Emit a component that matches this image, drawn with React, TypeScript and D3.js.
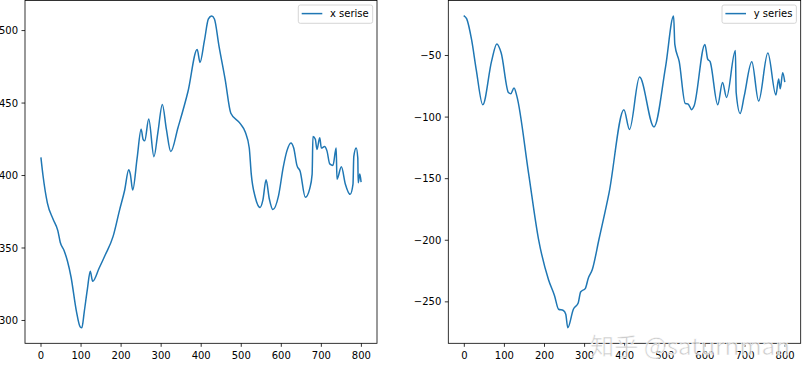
import React from "react";
import * as d3 from "d3";

// ---- data ----
const xSeriesIdx = [0, 5, 16, 30, 42, 48, 58, 66, 75, 88, 98, 102, 108, 116, 123, 129, 145, 160, 180, 196, 209, 219, 223, 229, 240, 250, 255, 259, 269, 282, 292, 303, 313, 324, 342, 367, 390, 397, 408, 418, 426, 433, 444, 460, 474, 497, 510, 520, 525, 535, 547, 554, 562, 570, 579, 593, 605, 614, 624, 631, 639, 647, 660, 671, 677, 679, 685, 689, 696, 700, 708, 714, 721, 729, 737, 739, 750, 760, 772, 779, 781, 787, 791, 792, 796, 799];
const xSeriesVals = [412, 400, 381, 370, 362, 354, 348, 341, 330, 307, 295.5, 295, 306, 322, 334, 327, 336, 345, 358, 376, 390, 404, 401, 390, 412, 432, 425, 424, 439, 413, 430, 449, 432, 416.5, 433, 458, 487, 478, 493, 508, 510, 508, 490, 466, 443, 436, 430, 419, 401, 385, 378, 383, 397, 384, 376.5, 386, 406, 417, 422.5, 419, 407, 403, 385, 391, 401, 427, 425, 418, 426, 419, 420, 417, 408, 407, 419, 397.5, 406, 394, 387, 394, 413, 419, 412, 395, 401, 396];

const ySeriesIdx = [0, 6, 18, 30, 46, 68, 81, 92, 110, 116, 124, 131, 160, 185, 210, 225, 235, 247, 253, 258, 272, 284, 290, 302, 309, 319, 336, 361, 398, 412, 437, 473, 502, 522, 525, 536, 551, 558, 567, 573, 600, 607, 613, 632, 644, 654, 676, 678, 688, 698, 717, 734, 757, 777, 784, 788, 794, 799];
const ySeriesVals = [-18, -20.3, -37, -62, -90, -54.6, -40.6, -48, -80, -81, -76.3, -83, -145, -199, -232, -245, -256, -257, -260, -271, -256, -251, -242, -239, -231, -224, -199, -161.5, -94, -110, -67.5, -108, -59, -18, -41, -55, -89, -89.3, -94, -91, -41, -53, -55, -90, -72, -84, -46, -80, -97, -83, -55, -87, -48, -82, -69, -77, -64, -71];

const xTicks = [0, 100, 200, 300, 400, 500, 600, 700, 800];
const leftYTicks = [300, 350, 400, 450, 500];
const rightYTicks = [-250, -200, -150, -100, -50];
const legendLabels = ["x serise", "y series"];
const watermark = "知乎 @saturnman";

const N = 800;
const COLOR = "#1f77b4";
const FONT = "DejaVu Sans, sans-serif";

function fmt(v: number) {
  return String(v).replace("-", "\u2212");
}

type PanelProps = {
  left: number;
  right: number;
  top: number;
  bottom: number;
  idx: number[];
  vals: number[];
  yTicks: number[];
  label: string;
};

function Panel({ left, right, top, bottom, idx, vals, yTicks, label }: PanelProps) {
  const xPad = (N - 1) * 0.05;
  const x = d3.scaleLinear().domain([-xPad, N - 1 + xPad]).range([left, right]);
  const [mn, mx] = d3.extent(vals) as [number, number];
  const yPad = (mx - mn) * 0.05;
  const y = d3.scaleLinear().domain([mn - yPad, mx + yPad]).range([bottom, top]);
  const pts: [number, number][] = idx.map((d, i) => [d, vals[i]]);
  const line = d3
    .line<[number, number]>()
    .x((d) => x(d[0]))
    .y((d) => y(d[1]))
    .curve(d3.curveMonotoneX);
  const legW = 74.4;
  const lx = right - 4.3 - legW;
  const ly = 5;
  return (
    <g>
      <defs>
        <clipPath id={"clip-" + label.replace(" ", "")}>
          <rect x={left} y={top} width={right - left} height={bottom - top} />
        </clipPath>
      </defs>
      <path
        d={line(pts) || ""}
        fill="none"
        stroke={COLOR}
        strokeWidth={1.5}
        strokeLinejoin="round"
        strokeLinecap="square"
        clipPath={`url(#clip-${label.replace(" ", "")})`}
      />
      <rect x={left} y={top} width={right - left} height={bottom - top} fill="none" stroke="#000" strokeWidth={0.8} />
      {xTicks.map((t) => (
        <g key={"x" + t}>
          <line x1={x(t)} x2={x(t)} y1={bottom} y2={bottom + 3.5} stroke="#000" strokeWidth={0.8} />
          <text x={x(t)} y={bottom + 15.5} textAnchor="middle" fontSize={10} fontFamily={FONT} fill="#000">
            {fmt(t)}
          </text>
        </g>
      ))}
      {yTicks.map((t) => (
        <g key={"y" + t}>
          <line x1={left - 3.5} x2={left} y1={y(t)} y2={y(t)} stroke="#000" strokeWidth={0.8} />
          <text x={left - 7} y={y(t) + 3.6} textAnchor="end" fontSize={10} fontFamily={FONT} fill="#000">
            {fmt(t)}
          </text>
        </g>
      ))}
      <rect x={lx} y={ly} width={legW} height={18.3} rx={2} fill="#fff" fillOpacity={0.8} stroke="#cccccc" strokeWidth={0.8} />
      <line x1={lx + 3.4} x2={lx + 24} y1={ly + 8.6} y2={ly + 8.6} stroke={COLOR} strokeWidth={1.5} />
      <text x={lx + 31.7} y={ly + 12.4} fontSize={10} fontFamily={FONT} fill="#000">
        {label}
      </text>
    </g>
  );
}

export default function App() {
  return (
    <div>
      <style>{"body{margin:0;}"}</style>
      <svg width={810} height={377} style={{ display: "block", background: "#fff" }}>
        <rect x={0} y={0} width={810} height={377} fill="#fff" />
        <Panel left={25} right={377} top={0.5} bottom={343.3} idx={xSeriesIdx} vals={xSeriesVals} yTicks={leftYTicks} label={legendLabels[0]} />
        <Panel left={448.3} right={800.7} top={0.5} bottom={343.3} idx={ySeriesIdx} vals={ySeriesVals} yTicks={rightYTicks} label={legendLabels[1]} />
        <text
          x={590}
          y={355}
          fontSize={24}
          fontFamily="Noto Sans CJK SC, sans-serif"
          fill="#bbbbbb"
          fillOpacity={0.75}
          stroke="#ffffff"
          strokeWidth={0.6}
          textLength={200}
          lengthAdjust="spacingAndGlyphs"
        >
          {watermark}
        </text>
      </svg>
    </div>
  );
}
